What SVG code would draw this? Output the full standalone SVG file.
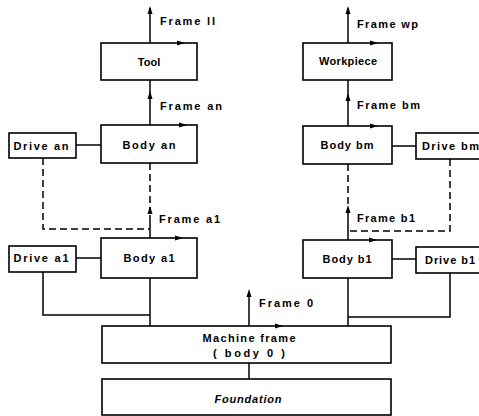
<svg xmlns="http://www.w3.org/2000/svg" width="479" height="416" viewBox="0 0 479 416">
<defs>
<marker id="up" markerWidth="6" markerHeight="8" refX="3" refY="0.5" orient="auto-start-reverse" markerUnits="userSpaceOnUse" viewBox="0 0 6 8"><path d="M0,0 L6,0 L3,8 Z" fill="#000"/></marker>
<style>
.box{fill:#fff;stroke:#000;stroke-width:1.6}
.ln{fill:none;stroke:#000;stroke-width:1.5}
.ds{fill:none;stroke:#000;stroke-width:1.5;stroke-dasharray:7,4}
.ah{fill:#000}
text{font-family:"Liberation Sans",Arial,sans-serif;font-size:11px;font-weight:bold;fill:#000}
.c{text-anchor:middle}
.i{font-style:italic}
</style>
</defs>
<rect width="479" height="416" fill="#fff"/>
<g id="connectors">
<!-- vertical frame axes -->
<line class="ln" x1="150" y1="43" x2="150" y2="8"/>
<path class="ah" d="M150,6 L147.5,14 L152.5,14 Z"/>
<line class="ln" x1="150" y1="125" x2="150" y2="80"/>
<path class="ah" d="M150,91 L147.5,99 L152.5,99 Z"/>
<line class="ln" x1="348" y1="43" x2="348" y2="8"/>
<path class="ah" d="M348,6 L345.5,14 L350.5,14 Z"/>
<line class="ln" x1="348" y1="126" x2="348" y2="80"/>
<path class="ah" d="M348,93 L345.5,101 L350.5,101 Z"/>
<!-- drive links -->
<line class="ln" x1="76" y1="145" x2="101" y2="145"/>
<line class="ln" x1="392" y1="146" x2="416" y2="146"/>
<line class="ln" x1="76" y1="258" x2="101" y2="258"/>
<line class="ln" x1="392" y1="259" x2="416" y2="259"/>
<!-- dashed chains -->
<polyline class="ds" points="43,158 43,229 150,229"/>
<line class="ds" x1="150" y1="163" x2="150" y2="215"/>
<line class="ln" x1="150" y1="215" x2="150" y2="238"/>
<path class="ah" d="M150,206 L147.5,214 L152.5,214 Z"/>
<polyline class="ds" points="450,159 450,231 348,231"/>
<line class="ds" x1="348" y1="164" x2="348" y2="215"/>
<line class="ln" x1="348" y1="215" x2="348" y2="240"/>
<path class="ah" d="M348,205 L345.5,213 L350.5,213 Z"/>
<!-- to machine frame -->
<polyline class="ln" points="43,272 43,315 150,315"/>
<line class="ln" x1="150" y1="278" x2="150" y2="326"/>
<polyline class="ln" points="450,273 450,317 348,317"/>
<line class="ln" x1="348" y1="278" x2="348" y2="326"/>
<line class="ln" x1="249" y1="326" x2="249" y2="292"/>
<path class="ah" d="M249,289 L246.5,297 L251.5,297 Z"/>
<line class="ln" x1="249" y1="363" x2="249" y2="379"/>
</g>
<g id="tool"><rect class="box" x="101" y="43" width="96" height="37"/><text class="c" x="149" y="66">Tool</text></g>
<g id="workpiece"><rect class="box" x="303" y="43" width="89" height="37"/><text class="c" x="348" y="65" textLength="58" lengthAdjust="spacing">Workpiece</text></g>
<g id="body-an"><rect class="box" x="101" y="125" width="96" height="38"/><text class="c" x="149" y="149" textLength="53" lengthAdjust="spacing">Body an</text></g>
<g id="drive-an"><rect class="box" x="9" y="133" width="67" height="25"/><text class="c" x="41" y="150" textLength="55" lengthAdjust="spacing">Drive an</text></g>
<g id="body-bm"><rect class="box" x="303" y="126" width="89" height="38"/><text class="c" x="347" y="149" textLength="53" lengthAdjust="spacing">Body bm</text></g>
<g id="drive-bm"><rect class="box" x="416" y="133" width="66" height="26"/><text x="422" y="150" textLength="57" lengthAdjust="spacing">Drive bm</text></g>
<g id="body-a1"><rect class="box" x="101" y="238" width="96" height="40"/><text class="c" x="149" y="262" textLength="51" lengthAdjust="spacing">Body a1</text></g>
<g id="drive-a1"><rect class="box" x="9" y="246" width="67" height="26"/><text class="c" x="41" y="262" textLength="55" lengthAdjust="spacing">Drive a1</text></g>
<g id="body-b1"><rect class="box" x="303" y="240" width="89" height="38"/><text class="c" x="347" y="263" textLength="49" lengthAdjust="spacing">Body b1</text></g>
<g id="drive-b1"><rect class="box" x="416" y="247" width="66" height="26"/><text x="425" y="264" textLength="50" lengthAdjust="spacing">Drive b1</text></g>
<g id="machine-frame"><rect class="box" x="102" y="326" width="289" height="37"/><text class="c" x="249" y="342" textLength="93" lengthAdjust="spacing">Machine frame</text><text class="c" x="249" y="357" textLength="72" lengthAdjust="spacing">( body 0 )</text></g>
<g id="foundation"><rect class="box" x="102" y="379" width="289" height="36"/><text class="c i" x="248" y="403" textLength="67" lengthAdjust="spacing">Foundation</text></g>
<g id="frame-marks">
<path class="ah" d="M185,43 L177,40.5 L177,45.5 Z"/>
<path class="ah" d="M187,125 L179,122.5 L179,127.5 Z"/>
<path class="ah" d="M183,238 L175,235.5 L175,240.5 Z"/>
<path class="ah" d="M378,43 L370,40.5 L370,45.5 Z"/>
<path class="ah" d="M378,126 L370,123.5 L370,128.5 Z"/>
<path class="ah" d="M377,240 L369,237.5 L369,242.5 Z"/>
<path class="ah" d="M283,326 L275,323.5 L275,328.5 Z"/>
</g>
<g id="labels">
<text x="160" y="25" textLength="55" lengthAdjust="spacing">Frame ll</text>
<text x="160" y="110" textLength="62" lengthAdjust="spacing">Frame an</text>
<text x="159" y="223" textLength="61" lengthAdjust="spacing">Frame a1</text>
<text x="357" y="28" textLength="61" lengthAdjust="spacing">Frame wp</text>
<text x="357" y="109" textLength="63" lengthAdjust="spacing">Frame bm</text>
<text x="357" y="222" textLength="58" lengthAdjust="spacing">Frame b1</text>
<text x="259" y="307" textLength="54" lengthAdjust="spacing">Frame 0</text>
</g>
</svg>
